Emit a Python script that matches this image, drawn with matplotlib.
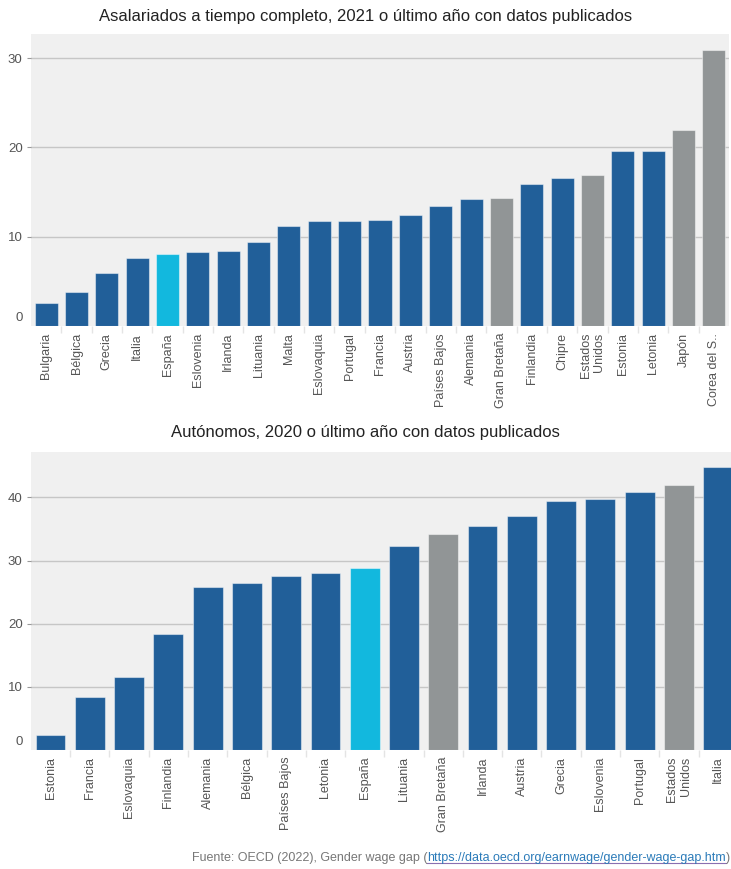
import numpy as np
import matplotlib.pyplot as plt
import matplotlib.transforms as mtransforms
from matplotlib.lines import Line2D

plt.rcParams['font.family'] = ['Liberation Sans', 'DejaVu Sans']

# Brecha salarial de género (%), asalariados a tiempo completo
paises_asal = ['Bulgaria', 'Bélgica', 'Grecia', 'Italia', 'España', 'Eslovenia', 'Irlanda',
               'Lituania', 'Malta', 'Eslovaquia', 'Portugal', 'Francia', 'Austria',
               'Países Bajos', 'Alemania', 'Gran Bretaña', 'Finlandia', 'Chipre',
               'Estados\nUnidos', 'Estonia', 'Letonia', 'Japón', 'Corea del S..']
brecha_asal = [2.6, 3.8, 5.9, 7.65, 8.1, 8.25, 8.35, 9.45, 11.2, 11.75, 11.75, 11.9, 12.45,
               13.4, 14.2, 14.35, 15.95, 16.55, 16.9, 19.55, 19.65, 22.0, 30.95]

# Autónomos
paises_auto = ['Estonia', 'Francia', 'Eslovaquia', 'Finlandia', 'Alemania', 'Bélgica',
               'Países Bajos', 'Letonia', 'España', 'Lituania', 'Gran Bretaña', 'Irlanda',
               'Austria', 'Grecia', 'Eslovenia', 'Portugal', 'Estados\nUnidos', 'Italia']
brecha_auto = [2.3, 8.37, 11.54, 18.35, 25.8, 26.5, 27.5, 27.97, 28.8, 32.25, 34.25, 35.4,
               37.05, 39.4, 39.75, 40.9, 41.9, 44.9]

no_ue = ['Gran Bretaña', 'Estados\nUnidos', 'Japón', 'Corea del S..']

AZUL = '#215f99'
CIAN = '#12b8de'
GRIS = '#919596'


def colores(paises):
    out = []
    for p in paises:
        if p == 'España':
            out.append(CIAN)
        elif p in no_ue:
            out.append(GRIS)
        else:
            out.append(AZUL)
    return out


W, H = 731, 869
fig = plt.figure(figsize=(W / 100, H / 100), dpi=100)


def panel(rect, paises, valores, ymax, yticks, titulo, title_y):
    ax = fig.add_axes(rect)
    ax.set_facecolor('#f0f0f0')
    x = np.arange(len(paises))
    ax.bar(x, valores, width=0.76, color=colores(paises),
           edgecolor=(1, 1, 1, 0.45), linewidth=0.8, zorder=3)
    ax.set_xlim(-0.5, len(paises) - 0.5)
    ax.set_ylim(0, ymax)
    ax.set_yticks(yticks)
    ax.yaxis.grid(True, color='#c6c6c6', linewidth=1, zorder=0)
    ax.set_axisbelow(True)
    for s in ax.spines.values():
        s.set_visible(False)
    ax.set_xticks(x)
    ax.set_xticklabels(paises, rotation=90, fontsize=9, color='#555555',
                       multialignment='right')
    ax.tick_params(axis='x', length=0, pad=5)
    ax.set_xticks(x[:-1] + 0.5, minor=True)
    ax.tick_params(axis='x', which='minor', length=5, color='#e4e4e4', width=1)
    ax.tick_params(axis='y', length=3, color='#999999', labelsize=9.5,
                   labelcolor='#555555', pad=3)
    # el 0 va sin marca y un poco por encima de la base
    t0 = ax.yaxis.get_major_ticks()[0]
    t0.tick1line.set_visible(False)
    ax.yaxis.grid(False)
    for v in yticks[1:]:
        ax.axhline(v, color='#c6c6c6', linewidth=1, zorder=0)
    lab0 = ax.get_yticklabels()[0]
    off = mtransforms.ScaledTranslation(0, 7 / 72, fig.dpi_scale_trans)
    lab0.set_transform(lab0.get_transform() + off)
    fig.text(0.5, 1 - title_y / H, titulo, ha='center', va='center',
             fontsize=12, color='#222222')
    return ax


panel([31 / W, 1 - 326 / H, 698 / W, 292 / H], paises_asal, brecha_asal, 32.7,
      [0, 10, 20, 30],
      'Asalariados a tiempo completo, 2021 o último año con datos publicados', 17)
panel([30.9 / W, 1 - 749.8 / H, 706.9 / W, 297.8 / H], paises_auto, brecha_auto, 47.2,
      [0, 10, 20, 30, 40],
      'Autónomos, 2020 o último año con datos publicados', 433)

# pie de fuente con enlace subrayado
fy = 1 - 858 / H
t1 = fig.text(0, fy, 'Fuente: OECD (2022), Gender wage gap (', fontsize=9,
              color='#777777', va='center')
t2 = fig.text(0, fy, 'https://data.oecd.org/earnwage/gender-wage-gap.htm', fontsize=9,
              color='#2b7bb9', va='center')
t3 = fig.text(0, fy, ')', fontsize=9, color='#777777', va='center')
fig.canvas.draw()
r = fig.canvas.get_renderer()
w1 = t1.get_window_extent(r).width
w2 = t2.get_window_extent(r).width
w3 = t3.get_window_extent(r).width
xr = 730
x3 = xr - w3
x2 = x3 - w2
x1 = x2 - w1
t1.set_x(x1 / W)
t2.set_x(x2 / W)
t3.set_x(x3 / W)
fig.canvas.draw()
bb = t2.get_window_extent(r)
fig.add_artist(Line2D([bb.x0, bb.x1], [bb.y0 + 1, bb.y0 + 1], color='#8a6fb0',
                      linewidth=0.8, transform=mtransforms.IdentityTransform()))

fig.savefig('out.png', dpi=100, facecolor='white')
